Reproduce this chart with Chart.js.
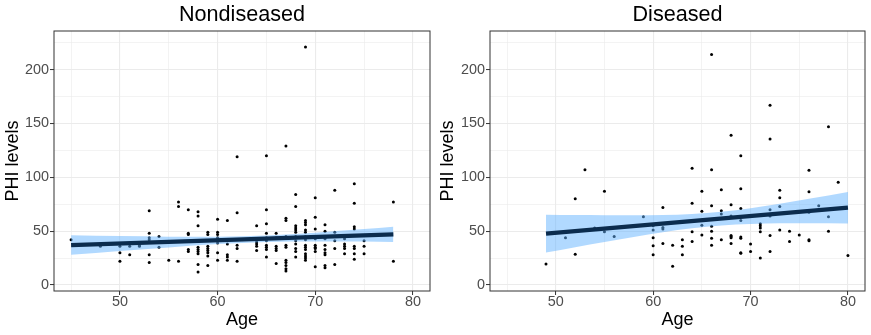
<!DOCTYPE html>
<html><head><meta charset="utf-8">
<script src="https://cdn.jsdelivr.net/npm/chart.js@4.4.1/dist/chart.umd.min.js"></script>
<style>
html,body{margin:0;padding:0;background:#fff;}
#wrap{position:relative;width:871px;height:335px;overflow:hidden;}
.panel{position:absolute;top:0;height:335px;}
canvas{display:block;}
</style></head><body>
<div id="wrap">
<div class="panel" style="left:0;width:435px"><canvas id="c1" width="435" height="335"></canvas></div>
<div class="panel" style="left:435px;width:436px"><canvas id="c2" width="436" height="335"></canvas></div>
</div>
<script>
// ---------- DATA ----------
const panelTitles = ['Nondiseased', 'Diseased'];
const xTitle = 'Age';
const yTitle = 'PHI levels';
const xTicks = [45, 50, 55, 60, 65, 70, 75, 80];
const xLabeled = [50, 60, 70, 80];
const yTicks = [0, 25, 50, 75, 100, 125, 150, 175, 200, 225];
const yLabeled = [0, 50, 100, 150, 200];

// Nondiseased: ages and the PHI values observed at each age
const ndAges = [45, 48, 50, 51, 52, 53, 54, 55, 56, 57, 58, 59, 60, 61, 62, 64, 65, 66, 67, 68, 69, 70, 71, 72, 73, 74, 75, 78];
const ndValues = [
  [42], [36], [36, 30, 22], [36, 28], [37, 36], [69, 48, 44, 42, 28, 21], [45, 35], [23],
  [77, 73, 22], [70, 48, 47, 33, 31], [68, 64, 55, 35, 33, 31, 29, 19, 12],
  [49, 47, 36, 34, 32, 30, 27, 18], [61, 49, 47, 44, 39, 30, 23], [60, 38, 28, 26, 23],
  [119, 67, 37, 34, 22], [55, 40, 38, 36, 32], [120, 70, 57, 48, 44, 41, 37, 35, 33, 26],
  [48, 44, 36, 34, 32, 20], [129, 62, 60, 45, 37, 35, 23, 21, 18, 15, 13],
  [84, 73, 55, 53, 51, 49, 45, 41, 38, 34, 31, 26],
  [221, 60, 58, 56, 51, 49, 45, 42, 37, 35, 33, 29, 27, 25, 23],
  [81, 63, 52, 43, 37, 35, 34, 31, 17], [56, 50, 44, 43, 37, 33, 30, 28, 18, 16],
  [88, 49, 41, 34, 19], [43, 38, 36, 34, 29], [94, 76, 54, 52, 36, 34, 29, 24],
  [41, 36, 29], [77, 22]
];
const ndFitX = [45, 78];
const ndFitY = [37.0, 47.0];
const ndBandX = [45, 50, 55, 60, 65, 70, 75, 78];
const ndBandLow = [28.0, 31.5, 34.9, 38.0, 40.0, 40.5, 40.3, 40.0];
const ndBandHigh = [46.3, 45.4, 44.9, 44.9, 46.0, 48.6, 51.9, 54.0];

// Diseased
const dAges = [49, 51, 52, 53, 54, 55, 56, 59, 60, 61, 62, 63, 64, 65, 66, 67, 68, 69, 70, 71, 72, 73, 74, 75, 76, 77, 78, 79, 80];
const dValues = [
  [19.5], [44], [80, 28.5], [107], [53], [87, 49.5], [45], [63.5],
  [55, 51, 44, 36.5, 28], [72, 53.5, 52, 38.5], [37, 17.5], [42, 36, 28],
  [108.5, 76, 49.5, 40.5], [87, 68.5, 55.5, 46.5], [214, 107, 73.5, 54.5, 50, 43.5, 37],
  [88.5, 69, 66, 42], [139, 74.5, 64, 46, 45, 44, 38.5], [120, 89.5, 71, 60, 44.5, 43.5, 30, 29.5],
  [38, 31], [57, 55, 53, 49.5, 25], [167, 135.5, 70, 64, 46, 31], [88, 81, 73, 51],
  [50, 40.5], [46.5], [106.5, 86.5, 67.5, 42, 41], [73.5], [147, 63.5, 50], [95.5], [27.5]
];
const dFitX = [49, 80];
const dFitY = [47.7, 71.8];
const dBandX = [49, 52, 55, 58, 61, 64, 67, 70, 73, 76, 80];
const dBandLow = [30.1, 35.1, 39.9, 44.6, 49.0, 52.7, 55.3, 56.7, 57.3, 57.4, 57.2];
const dBandHigh = [65.3, 65.0, 64.8, 64.7, 65.0, 66.0, 68.0, 71.3, 75.4, 80.0, 86.4];

// ---------- STYLE ----------
const FONT = '"Liberation Sans", Arial, Helvetica, sans-serif';
Chart.defaults.font.family = FONT;
const GRID = '#EBEBEB';
const LINE = '#0b2c4e';
const BAND = 'rgba(100,180,255,0.5)';

const panelDecor = {
  id: 'panelDecor',
  afterDraw(chart, args, opts) {
    const { ctx, chartArea: a } = chart;
    ctx.save();
    ctx.strokeStyle = '#333333';
    ctx.lineWidth = 1;
    ctx.strokeRect(a.left, a.top, a.right - a.left, a.bottom - a.top);
    ctx.fillStyle = '#000';
    ctx.font = '21.6px ' + FONT;
    ctx.textAlign = 'center';
    ctx.textBaseline = 'alphabetic';
    ctx.fillText(opts.text, (a.left + a.right) / 2, 21);
    ctx.restore();
  }
};

function xy(xs, ys) { return xs.map((x, i) => ({ x: x, y: ys[i] })); }

function makeChart(id, title, ages, values, fitX, fitY, bandX, low, high, yWidth, padRight) {
  const pts = [];
  ages.forEach((a, i) => values[i].forEach(v => pts.push({ x: a, y: v })));
  return new Chart(document.getElementById(id), {
    type: 'scatter',
    data: {
      datasets: [
        { type: 'line', data: xy(fitX, fitY), borderColor: LINE, borderWidth: 4.2, pointRadius: 0, fill: false, order: 0, borderCapStyle: 'butt' },
        { type: 'line', data: xy(bandX, low), borderColor: 'rgba(0,0,0,0)', borderWidth: 0, pointRadius: 0, fill: false, order: 1, cubicInterpolationMode: 'monotone' },
        { type: 'line', data: xy(bandX, high), borderColor: 'rgba(0,0,0,0)', borderWidth: 0, pointRadius: 0, fill: '-1', backgroundColor: BAND, order: 1, cubicInterpolationMode: 'monotone' },
        { type: 'scatter', data: pts, pointRadius: 1.5, backgroundColor: '#000', borderWidth: 0, order: 2 }
      ]
    },
    options: {
      responsive: false,
      animation: false,
      events: [],
      devicePixelRatio: 1,
      layout: { padding: { top: 31, right: padRight, left: 0, bottom: 0 } },
      plugins: { legend: { display: false }, tooltip: { enabled: false }, panelDecor: { text: title } },
      scales: {
        x: {
          type: 'linear', min: 43.25, max: 81.75,
          afterBuildTicks: s => { s.ticks = xTicks.map(v => ({ value: v })); },
          afterFit: s => { s.height = 44; },
          border: { display: false },
          grid: {
            color: GRID,
            lineWidth: c => (c.tick && xLabeled.includes(c.tick.value)) ? 1.1 : 0.6,
            tickLength: 4,
            tickWidth: 1,
            tickColor: c => (c.tick && xLabeled.includes(c.tick.value)) ? '#333333' : 'rgba(0,0,0,0)'
          },
          ticks: {
            autoSkip: false, maxRotation: 0, padding: 0, color: '#4D4D4D',
            font: { size: 14.4, lineHeight: 1 },
            callback: v => xLabeled.includes(v) ? String(v) : ''
          },
          title: { display: true, text: xTitle, color: '#000', font: { size: 18 }, padding: { top: 0, bottom: 4.4 } }
        },
        y: {
          type: 'linear', min: -5.57, max: 235.9,
          afterBuildTicks: s => { s.ticks = yTicks.map(v => ({ value: v })); },
          afterFit: s => { s.width = yWidth; },
          border: { display: false },
          grid: {
            color: GRID,
            lineWidth: c => (c.tick && yLabeled.includes(c.tick.value)) ? 1.1 : 0.6,
            tickLength: 4,
            tickWidth: 1,
            tickColor: c => (c.tick && yLabeled.includes(c.tick.value)) ? '#333333' : 'rgba(0,0,0,0)'
          },
          ticks: {
            autoSkip: false, padding: 1, color: '#4D4D4D',
            font: { size: 14.4, lineHeight: 1 },
            callback: v => yLabeled.includes(v) ? String(v) : ''
          },
          title: { display: true, text: yTitle, color: '#000', font: { size: 18 }, padding: { top: 2, bottom: 0 } }
        }
      }
    },
    plugins: [panelDecor]
  });
}

makeChart('c1', panelTitles[0], ndAges, ndValues, ndFitX, ndFitY, ndBandX, ndBandLow, ndBandHigh, 54, 5);
makeChart('c2', panelTitles[1], dAges, dValues, dFitX, dFitY, dBandX, dBandLow, dBandHigh, 55, 6);
</script>
</body></html>
